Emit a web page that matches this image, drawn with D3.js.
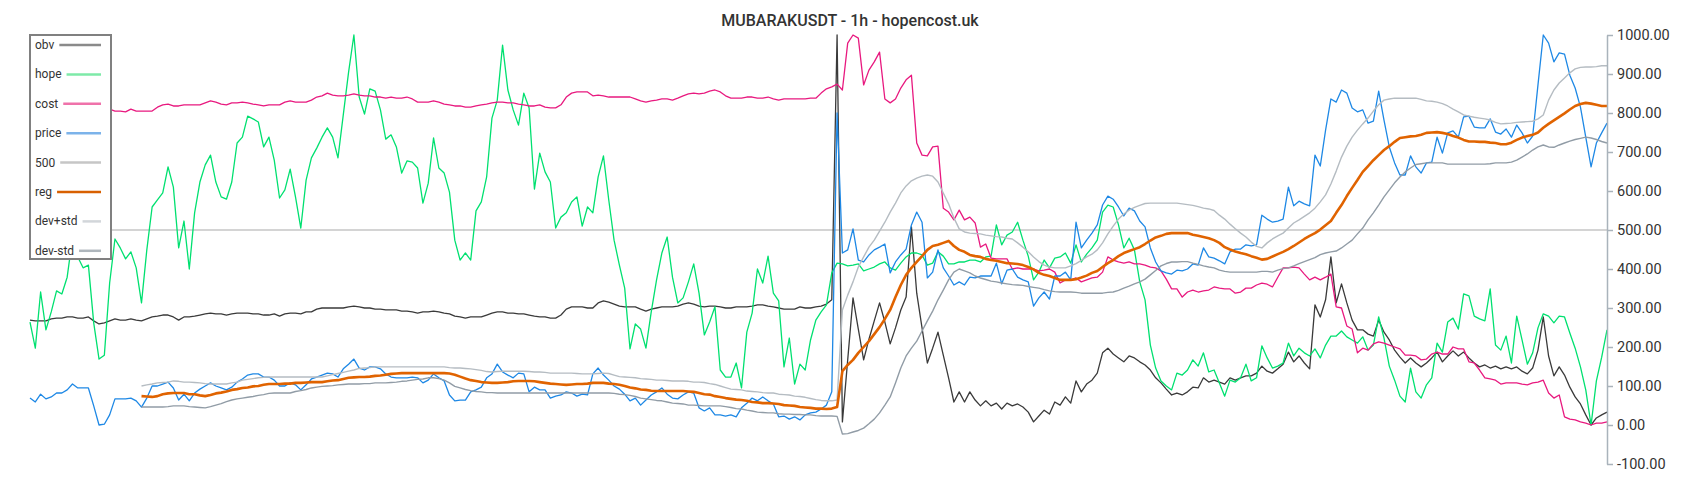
<!DOCTYPE html>
<html><head><meta charset="utf-8">
<script src="https://cdn.jsdelivr.net/npm/d3@7"></script>
<style>
html,body{margin:0;padding:0;background:#fff;}
svg{display:block;font-family:Roboto,"Noto Sans",sans-serif;}
</style></head><body>
<svg id="chart" width="1700" height="500"></svg>
<script>
const title = "MUBARAKUSDT - 1h - hopencost.uk";
const yTicks = [-100, 0, 100, 200, 300, 400, 500, 600, 700, 800, 900, 1000];
const refLevel = 500;

const obv = [
269,267,267,267,272,274,274,277,277,274,
274,277,267,259,262,267,272,269,269,272,
269,267,272,277,279,282,282,277,269,277,
277,279,282,285,287,285,285,282,285,287,
287,287,285,285,282,282,285,279,285,287,
287,285,290,290,297,300,300,300,300,300,
303,305,303,300,300,297,297,295,295,295,
292,292,290,287,290,290,292,290,287,285,
279,277,274,277,277,277,282,287,290,290,
287,287,285,285,282,279,277,277,274,274,
282,297,303,303,303,300,300,313,318,315,
310,305,303,303,303,297,292,297,300,303,
303,303,305,310,313,310,305,303,305,305,
303,300,300,303,303,303,305,308,308,305,
303,300,297,297,297,303,300,300,303,305,
310,321,1000,8,167,326,246,167,220,267,
313,264,208,249,295,328,508,338,249,159,
197,238,179,121,59,85,59,85,64,49,
62,49,56,41,56,49,54,46,33,8,
23,38,28,59,51,72,56,113,85,105,
115,133,185,197,182,172,162,177,172,162,
154,141,121,108,92,77,82,77,85,97,
95,121,110,115,110,105,121,115,121,126,
126,133,151,138,133,144,156,187,162,177,
159,144,308,277,321,431,313,362,313,269,
244,244,233,228,269,238,218,192,174,159,
172,159,149,159,172,187,162,177,190,177,
187,172,159,149,154,146,151,144,149,144,
149,138,131,146,192,277,177,126,149,128,
97,72,54,26,0,18,26,33];

const hope = [
264,197,341,244,290,344,336,379,480,431,
403,410,262,169,179,364,477,454,426,444,
403,313,449,559,577,595,662,610,454,523,
400,544,623,667,692,623,585,579,623,723,
738,792,785,777,713,738,679,582,603,656,
585,505,628,685,710,738,762,738,685,795,
905,1000,841,797,862,856,808,733,744,713,
646,677,674,659,569,620,736,659,646,597,
474,423,441,423,549,572,636,787,833,974,
859,808,769,851,813,605,697,649,623,505,
533,544,572,585,510,559,544,636,690,577,
474,410,351,195,259,246,197,290,372,441,
482,379,313,326,367,413,338,231,264,303,
141,123,123,159,95,238,287,400,364,433,
338,318,149,223,105,156,141,218,269,290,
308,390,415,413,408,410,413,395,400,405,
413,418,403,397,415,431,441,441,436,410,
415,444,433,413,413,418,418,423,423,418,
431,433,513,462,487,495,520,474,433,372,
392,423,403,428,431,441,415,462,418,438,
454,474,546,564,559,513,454,479,449,367,
321,205,146,113,100,90,133,128,141,167,
151,185,136,141,108,74,115,110,121,156,
113,121,203,172,146,151,159,210,177,197,
185,177,195,172,205,228,228,241,226,218,
210,226,192,205,277,223,151,115,74,59,
146,85,69,103,121,210,187,264,274,246,
336,331,279,272,267,349,205,192,228,159,
279,218,156,185,249,285,279,262,279,277,
236,197,149,90,0,113,174,244];

const cost = [
818,815,812,815,818,815,812,810,812,815,
812,810,808,810,808,810,805,805,803,810,
805,805,805,805,815,821,823,818,818,821,
821,821,821,826,831,828,823,821,826,826,
828,826,823,821,818,821,821,821,828,831,
828,828,828,833,841,844,851,846,844,844,
846,849,846,844,844,841,841,838,841,838,
838,841,836,828,828,828,831,828,823,821,
818,818,815,815,818,821,823,826,828,828,
826,826,823,821,818,818,821,815,813,813,
821,841,851,854,854,854,844,846,844,841,
841,841,841,841,836,831,828,831,833,836,
836,833,838,844,849,851,849,851,856,859,
854,844,838,838,838,841,841,838,838,841,
836,833,836,836,836,836,836,838,838,851,
862,867,874,859,979,1000,992,872,910,931,
956,836,826,836,864,885,897,723,692,690,
713,715,556,546,526,551,526,533,518,456,
464,428,426,426,426,400,403,400,400,400,
395,397,400,392,364,372,372,377,367,372,
377,379,392,431,423,418,415,418,413,413,
410,405,403,395,374,349,349,328,341,346,
341,344,346,354,351,349,349,338,341,351,
351,359,364,361,354,379,403,403,405,403,
387,372,379,372,379,387,303,300,254,246,
185,197,192,208,213,210,205,200,195,179,
179,177,167,169,182,187,182,182,200,195,
195,162,159,141,121,118,115,105,108,108,
108,105,103,108,110,115,82,69,77,21,
15,13,8,5,0,5,5,8];

const price = [
69,59,79,67,72,82,82,90,105,95,
95,95,49,0,2,26,67,67,67,69,
62,46,69,100,100,105,110,95,64,79,
62,82,92,100,108,100,95,90,97,110,
118,128,131,131,123,123,115,100,100,108,
103,90,103,118,123,128,133,131,123,144,
156,169,146,141,149,149,144,131,123,121,
121,121,123,121,108,115,131,121,113,77,
62,64,64,85,90,97,121,131,156,136,
128,121,133,131,85,97,90,90,69,74,
77,85,82,74,79,77,131,146,128,115,
100,92,79,62,69,51,64,77,85,95,
79,69,67,77,85,82,44,36,44,26,
26,23,26,21,44,56,69,62,72,62,
54,21,23,15,21,13,26,31,33,41,
51,85,800,441,449,503,423,418,436,449,
456,464,390,418,436,451,513,546,520,377,
392,449,403,382,359,367,359,379,377,382,
382,382,415,362,397,400,379,372,367,305,
326,341,323,382,382,392,372,520,454,474,
492,513,564,587,579,559,536,556,549,523,
508,454,418,395,390,387,397,395,400,413,
410,454,431,428,421,413,444,451,451,462,
459,462,538,528,520,523,528,610,562,574,
567,562,692,664,756,836,828,859,851,813,
803,808,774,779,856,782,713,672,641,641,
690,662,646,672,674,738,697,749,754,738,
790,792,764,762,762,785,751,746,759,738,
769,749,723,741,872,1000,979,931,954,951,
897,864,815,738,662,723,749,774];

// rolling series start at bar 21
const rollStart = 21;
const reg = [
74,73,72,74,79,81,82,82,82,
79,79,76,74,77,81,83,86,90,92,
95,96,99,100,103,105,105,105,106,106,
108,108,109,110,110,110,112,114,115,118,
121,122,123,123,124,126,127,129,131,132,
133,133,133,133,133,133,133,133,133,132,
129,124,119,115,113,110,109,108,108,109,
110,112,113,113,113,112,110,108,106,105,
104,103,104,105,105,106,108,108,108,106,
105,103,100,96,94,91,90,88,87,87,
87,87,87,87,86,85,82,79,78,74,
72,69,67,65,64,62,59,58,56,56,
55,54,51,50,49,46,45,44,42,42,
41,42,46,138,154,167,185,200,215,233,
251,272,295,328,359,385,403,418,433,449,
459,462,467,472,459,449,444,436,433,431,
426,423,421,418,415,414,413,410,405,399,
390,385,382,377,372,372,372,374,378,383,
390,395,405,415,423,433,441,446,451,456,
464,473,481,485,490,492,492,492,492,488,
485,482,479,474,467,456,450,445,441,438,
433,429,424,426,432,438,444,451,459,468,
477,485,492,501,512,523,544,564,587,608,
628,649,664,679,692,705,715,726,736,738,
740,741,744,749,750,751,749,746,741,737,
731,727,727,726,726,724,723,720,720,724,
731,737,741,744,750,762,772,781,790,799,
809,818,823,826,824,821,818,818];

const devPlus = [
100,103,105,108,109,110,113,112,110,
110,109,108,106,105,105,105,105,108,110,
115,117,119,121,122,123,123,123,123,123,
123,123,123,123,123,123,126,129,132,135,
138,141,145,146,147,149,149,149,149,149,
149,149,149,149,149,149,149,149,149,147,
146,146,145,144,142,140,137,136,137,138,
138,138,138,138,137,136,136,135,133,133,
133,133,133,132,131,131,131,132,133,132,
128,124,123,122,121,119,118,117,115,115,
114,113,113,113,112,110,110,109,106,104,
100,96,92,91,90,87,86,85,83,82,
82,79,78,77,74,73,71,68,65,63,
62,62,64,295,333,367,405,431,456,474,
497,520,546,569,595,613,626,633,638,641,
638,623,595,567,531,503,495,492,491,490,
487,485,483,482,479,477,467,456,444,431,
419,410,405,403,403,403,408,414,422,431,
438,449,467,490,510,528,541,551,558,563,
568,569,569,569,569,569,569,567,565,563,
560,556,554,550,538,528,515,503,492,482,
469,458,454,467,477,485,492,505,518,526,
535,544,556,572,590,618,651,687,715,738,
756,772,787,805,821,833,836,838,838,838,
838,838,835,831,830,828,824,818,810,803,
795,792,789,787,785,782,776,772,773,774,
776,777,778,779,785,795,833,859,877,890,
903,913,917,918,918,919,921,921];

const devMinus = [
46,46,46,46,46,47,49,49,49,
47,46,45,44,47,51,55,60,64,67,
69,71,73,76,78,81,82,82,82,82,
86,88,91,95,97,99,100,101,103,104,
105,105,105,106,106,108,108,108,109,110,
112,113,115,117,118,121,121,119,115,108,
99,95,91,88,86,85,83,83,82,82,
82,82,82,82,82,82,82,82,82,82,
82,82,82,82,82,82,82,82,82,82,
81,79,78,76,73,69,67,65,63,62,
59,56,55,54,51,51,50,49,49,49,
49,47,45,42,41,38,36,33,32,31,
31,29,28,28,27,27,26,26,24,23,
23,23,22,-23,-22,-18,-14,-8,3,15,
31,51,72,108,146,177,197,215,241,267,
292,321,346,372,392,400,395,390,382,377,
373,369,367,364,362,360,359,358,355,353,
351,347,344,342,341,341,341,340,338,338,
338,338,338,340,341,345,351,356,362,367,
374,385,396,408,414,418,418,419,419,415,
412,408,405,403,397,394,392,392,392,392,
392,392,394,394,392,397,401,403,408,414,
419,424,429,437,441,444,446,454,464,474,
490,505,526,544,564,585,603,621,636,649,
659,668,670,672,672,672,672,669,669,669,
669,669,669,669,669,670,672,672,672,674,
679,687,695,705,713,718,713,712,718,723,
728,732,735,738,736,732,727,723];

const legendNames = ["obv", "hope", "cost", "price", "500", "reg", "dev+std", "dev-std"];

const svg = d3.select("#chart");
const n = obv.length;
const x = d3.scaleLinear().domain([0, n - 1]).range([30, 1607]);
const y = d3.scaleLinear().domain([-100, 1000]).range([464, 35]);

const line = d3.line().defined(d => d[1] != null).x(d => x(d[0])).y(d => y(d[1]));
const full = arr => arr.map((v, i) => [i, v]);
const rolled = arr => arr.map((v, i) => [i + rollStart, v]);

const series = [
  {name: "obv", pts: full(obv), color: "#3a3a3a", w: 1.3, lc: "#8a8a8a"},
  {name: "hope", pts: full(hope), color: "#00e070", w: 1.3, lc: "#7eeaa8"},
  {name: "cost", pts: full(cost), color: "#e8197f", w: 1.3, lc: "#ef72aa"},
  {name: "price", pts: full(price), color: "#1e88e5", w: 1.3, lc: "#7cb3ea"},
  {name: "500", pts: [[0, refLevel], [n - 1, refLevel]], color: "#c6c6c6", w: 1.6, lc: "#c6c6c6"},
  {name: "reg", pts: rolled(reg), color: "#e06300", w: 2.6, lc: "#d86000"},
  {name: "dev+std", pts: rolled(devPlus), color: "#b5bcc2", w: 1.4, lc: "#d2d6da"},
  {name: "dev-std", pts: rolled(devMinus), color: "#919ca6", w: 1.4, lc: "#aeb6bc"}
];

const order = ["500", "obv", "hope", "cost", "price", "dev+std", "dev-std", "reg"];
order.forEach(nm => {
  const s = series.find(d => d.name === nm);
  svg.append("path").datum(s.pts).attr("d", line)
    .attr("fill", "none").attr("stroke", s.color).attr("stroke-width", s.w)
    .attr("stroke-linejoin", "round");
});

// y axis (right)
const axis = d3.axisRight(y).tickValues(yTicks).tickFormat(d => d.toFixed(2))
  .tickSize(6).tickSizeOuter(0).tickPadding(4);
const ga = svg.append("g").attr("transform", `translate(${x(n - 1)},0)`).call(axis);
ga.select(".domain").attr("stroke", "#a9b3bb").attr("stroke-width", 1.5);
ga.selectAll(".tick line").attr("stroke", "#a9b3bb").attr("stroke-width", 1.5);
ga.selectAll(".tick text").attr("fill", "#333").style("font-size", "14.5px")
  .style("font-family", "Roboto, 'Noto Sans', sans-serif");

// title
svg.append("text").attr("x", 850).attr("y", 26).attr("text-anchor", "middle")
  .style("font-size", "16px").style("font-weight", 500).attr("fill", "#333").text(title);

// legend
svg.append("rect").attr("x", 30).attr("y", 35).attr("width", 81).attr("height", 224)
  .attr("fill", "#fff").attr("stroke", "#808080").attr("stroke-width", 2);
legendNames.forEach((nm, i) => {
  const s = series.find(d => d.name === nm);
  const cy = 45 + i * 29.4;
  const t = svg.append("text").attr("x", 35).attr("y", cy + 4).text(nm)
    .style("font-size", "12px").attr("fill", "#333");
  const w = t.node().getComputedTextLength();
  svg.append("line").attr("x1", 35 + w + 5).attr("x2", 101).attr("y1", cy).attr("y2", cy)
    .attr("stroke", s.lc).attr("stroke-width", 2.5);
});
</script>
</body></html>
